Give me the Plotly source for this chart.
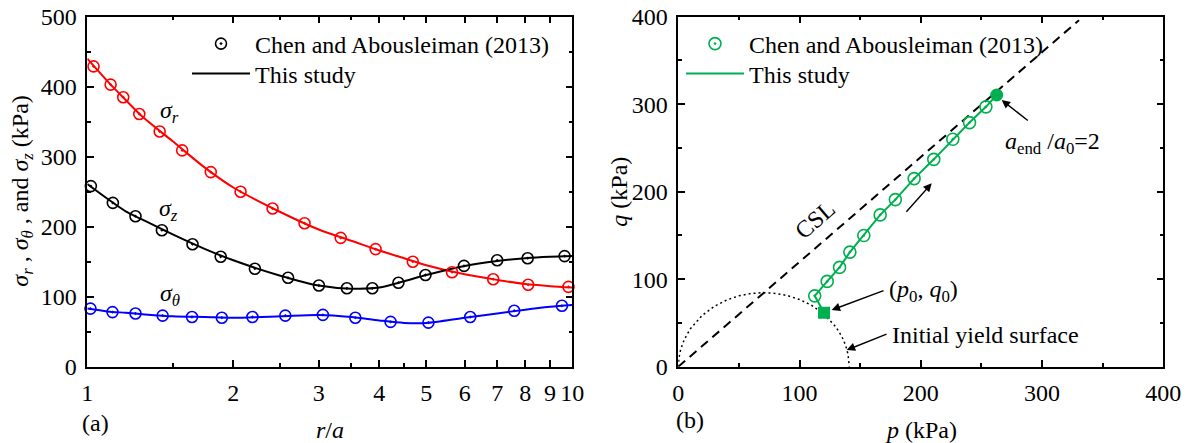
import math
import plotly.graph_objects as go

# ---------------- data: panel (a) ----------------
r_exp_r = [1.03, 1.117, 1.186, 1.28, 1.41, 1.569, 1.797, 2.07, 2.41, 2.805, 3.33, 3.93, 4.69, 5.65, 6.87, 8.11, 9.82]
sr_exp = [429, 403, 385, 361, 336, 309, 278, 250, 226, 205, 184, 168, 150, 135, 125, 117, 114]

r_exp_z = [1.017, 1.129, 1.257, 1.425, 1.648, 1.884, 2.216, 2.594, 3.003, 3.43, 3.87, 4.38, 4.98, 5.98, 7.0, 8.09, 9.64]
sz_exp = [258, 234, 215, 195, 175, 157, 140, 127, 116, 112, 112, 120, 131, 144, 152, 155, 158]

r_exp_t = [1.015, 1.127, 1.257, 1.43, 1.644, 1.894, 2.19, 2.56, 3.06, 3.57, 4.22, 5.05, 6.16, 7.59, 9.52]
st_exp = [83, 78, 76, 73, 71, 70, 71, 73, 74, 70, 64, 63, 71, 80, 87]

r_line = [1.0, 1.1, 1.2, 1.3, 1.5, 1.75, 2.0, 2.5, 3.0, 3.5, 4.0, 4.5, 5.0, 6.0, 7.0, 8.0, 9.0, 10.0]
sr_line = [440, 408, 381, 357, 322, 284, 256, 221, 196, 180, 166, 155, 145, 132, 124, 118, 115, 113]
sz_line = [261, 240, 222, 210, 189, 168, 152, 130, 116, 111.5, 113, 122, 131, 144, 151, 155, 157, 158]
st_line = [83, 79, 77, 75, 72, 71, 70, 72, 74, 71, 66, 62.5, 62.5, 70, 76, 81.5, 85.5, 88]

r_major = [1, 2, 3, 4, 5, 6, 7, 8, 9, 10]
r_major_text = ["1", "2", "3", "4", "5", "6", "7", "8", "9", "10"]
r_minor = [1.5, 2.5, 3.5, 4.5]

# ---------------- data: panel (b) ----------------
p_exp = [112.5, 122.8, 133, 141.5, 153, 166.5, 179, 194.5, 210.7, 226.4, 240.2, 253.7]
q_exp = [81, 97.5, 113.5, 131, 150, 173.5, 191, 215, 237, 260, 279, 297]

p_start = [120.2]
q_start = [61.7]
p_end = [262.6]
q_end = [310.5]

p_csl = [0, 330.5]
q_csl = [0, 396]

p_ys = [0, 0.5, 2, 5, 10, 20, 30, 40, 50, 60, 70, 80, 90, 100, 110, 120, 130, 135, 138, 140, 141]
q_ys = [0, 10, 20, 31.3, 43.4, 59, 69.2, 76.3, 81, 83.7, 84.6, 83.8, 81.3, 76.8, 70.1, 60.2, 45.4, 34.2, 24.4, 14.2, 0]

# ---------------- styling ----------------
W, H = 1187, 443
FONT = "Liberation Serif, Times New Roman, serif"
RED, BLACK, BLUE, GREEN = "#FF0000", "#000000", "#0000FF", "#00B050"


def px(x):
    return x / W


def py(y):
    return 1 - y / H


fig = go.Figure()

# panel (a) lines
for xs, ys, c in [(r_line, sr_line, RED), (r_line, st_line, BLUE)]:
    fig.add_trace(go.Scatter(x=xs, y=ys, mode="lines", line=dict(color=c, width=2, shape="spline", smoothing=0.8),
                             showlegend=False, xaxis="x", yaxis="y"))
fig.add_trace(go.Scatter(x=r_line, y=sz_line, mode="lines",
                         line=dict(color=BLACK, width=2, shape="spline", smoothing=0.8),
                         name="This study", legend="legend2", xaxis="x", yaxis="y"))
# panel (a) markers
for xs, ys, c, show in [(r_exp_r, sr_exp, RED, False), (r_exp_t, st_exp, BLUE, False), (r_exp_z, sz_exp, BLACK, True)]:
    fig.add_trace(go.Scatter(x=xs, y=ys, mode="markers",
                             marker=dict(symbol="circle-open-dot", size=11, color=c, line=dict(width=1.6, color=c)),
                             name="Chen and Abousleiman (2013)", showlegend=show, legend="legend",
                             cliponaxis=False, xaxis="x", yaxis="y"))

# panel (b)
fig.add_trace(go.Scatter(x=p_ys, y=q_ys, mode="lines", line=dict(color=BLACK, width=1.5, dash="2px,3px"),
                         showlegend=False, xaxis="x2", yaxis="y2"))
fig.add_trace(go.Scatter(x=p_csl, y=q_csl, mode="lines", line=dict(color=BLACK, width=2, dash="9px,6px"),
                         showlegend=False, xaxis="x2", yaxis="y2"))
fig.add_trace(go.Scatter(x=p_start + p_exp + p_end, y=q_start + q_exp + q_end, mode="lines",
                         line=dict(color=GREEN, width=2), name="This study", legend="legend4",
                         xaxis="x2", yaxis="y2"))
fig.add_trace(go.Scatter(x=p_exp, y=q_exp, mode="markers",
                         marker=dict(symbol="circle-open-dot", size=12, color=GREEN, line=dict(width=1.6, color=GREEN)),
                         name="Chen and Abousleiman (2013)", legend="legend3",
                         xaxis="x2", yaxis="y2"))
fig.add_trace(go.Scatter(x=p_start, y=q_start, mode="markers", marker=dict(symbol="square", size=12, color=GREEN),
                         showlegend=False, xaxis="x2", yaxis="y2"))
fig.add_trace(go.Scatter(x=p_end, y=q_end, mode="markers", marker=dict(symbol="circle", size=13, color=GREEN),
                         showlegend=False, xaxis="x2", yaxis="y2"))

axis_common = dict(showline=True, linewidth=1.5, linecolor=BLACK, mirror="allticks", ticks="inside",
                   ticklen=7, tickwidth=1.5, tickcolor=BLACK, showgrid=False, zeroline=False, automargin=False,
                   tickfont=dict(family=FONT, size=24, color=BLACK), ticklabelstandoff=4)
minor_common = dict(ticks="inside", ticklen=4, tickwidth=1.5, tickcolor=BLACK, showgrid=False)


def legend_at(x, y):
    return dict(x=px(x), y=py(y), xanchor="left", yanchor="middle", bgcolor="rgba(0,0,0,0)",
                font=dict(family=FONT, size=24, color=BLACK), itemwidth=58)


ydom = [1 - 366.7 / H, 1 - 16.7 / H]
fig.update_layout(
    template="none",
    width=W, height=H, margin=dict(l=0, r=0, t=0, b=0, autoexpand=False),
    paper_bgcolor="white", plot_bgcolor="white",
    font=dict(family=FONT, size=24, color=BLACK),
    xaxis=dict(axis_common, type="log", range=[0, 1], domain=[87.3 / W, 572.3 / W],
               tickmode="array", tickvals=r_major, ticktext=r_major_text,
               minor=dict(minor_common, tickmode="array", tickvals=r_minor)),
    yaxis=dict(axis_common, range=[0, 500], domain=ydom, dtick=100, minor=dict(minor_common, dtick=50)),
    xaxis2=dict(axis_common, range=[0, 400], domain=[678.3 / W, 1163.3 / W], dtick=100, anchor="y2",
                minor=dict(minor_common, dtick=50)),
    yaxis2=dict(axis_common, range=[0, 400], domain=ydom, dtick=100, anchor="x2",
                minor=dict(minor_common, dtick=50)),
    legend=legend_at(187, 44),
    legend2=legend_at(187, 74),
    legend3=legend_at(681, 44),
    legend4=legend_at(681, 74),
)

ann = []


def text_paper(x, y, t, angle=0):
    ann.append(dict(x=px(x), y=py(y), xref="paper", yref="paper", text=t, showarrow=False,
                    textangle=angle, font=dict(family=FONT, size=24, color=BLACK),
                    xanchor="center", yanchor="middle"))


text_paper(22, 191.7, "<i>σ</i><sub><i>r</i></sub> , <i>σ</i><sub><i>θ</i></sub> , and <i>σ</i><sub><i>z</i></sub> (kPa)", -90)
text_paper(330, 430, "<i>r</i>/<i>a</i>")
text_paper(95, 423, "(a)")
text_paper(690, 420, "(b)")
text_paper(921, 430, "<i>p</i> (kPa)")
text_paper(619, 191.7, "<i>q</i> (kPa)", -90)

# panel (a) curve labels
for x, y, t in [(1.48, 364, "<i>σ</i><sub><i>r</i></sub>"), (1.47, 224, "<i>σ</i><sub><i>z</i></sub>"),
                (1.48, 102, "<i>σ</i><sub><i>θ</i></sub>")]:
    ann.append(dict(x=math.log10(x), y=y, xref="x", yref="y", text=t,
                    showarrow=False, font=dict(family=FONT, size=24, color=BLACK)))

# panel (b) texts
ann.append(dict(x=112.6, y=167.7, xref="x2", yref="y2", text="CSL", textangle=-41, showarrow=False,
                font=dict(family=FONT, size=24, color=BLACK)))
ann.append(dict(x=268, y=255.6, xref="x2", yref="y2", xanchor="left",
                text="<i>a</i><sub>end</sub> /<i>a</i><sub>0</sub>=2", showarrow=False,
                font=dict(family=FONT, size=24, color=BLACK)))
ann.append(dict(x=172, y=86, xref="x2", yref="y2", xanchor="left",
                text="(<i>p</i><sub>0</sub>, <i>q</i><sub>0</sub>)", showarrow=False,
                font=dict(family=FONT, size=24, color=BLACK)))
ann.append(dict(x=174.5, y=36, xref="x2", yref="y2", xanchor="left", text="Initial yield surface",
                showarrow=False, font=dict(family=FONT, size=24, color=BLACK)))

# arrows (tail -> tip)
for (tx, ty, hx, hy) in [(289.5, 280, 266.7, 304.8), (187, 175.3, 209, 209.6),
                         (170.5, 87.6, 126.5, 64.8), (173, 38, 138.9, 19)]:
    ann.append(dict(x=hx, y=hy, ax=tx, ay=ty, xref="x2", yref="y2", axref="x2", ayref="y2", text="",
                    showarrow=True, arrowhead=2, arrowsize=1.2, arrowwidth=1.4, arrowcolor=BLACK))

fig.update_layout(annotations=ann)
fig.write_html("out.html", config={"displayModeBar": False},
               post_script="document.body.style.margin='0';document.body.style.padding='0';")
